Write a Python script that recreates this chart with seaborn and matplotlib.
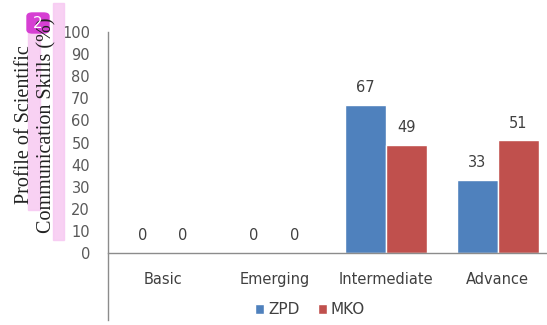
import matplotlib
matplotlib.use("Agg")
import matplotlib.pyplot as plt
from matplotlib.patches import Patch, FancyBboxPatch, Rectangle
import seaborn as sns
import pandas as pd

# Skill levels and the share of students (%) at each level per group
categories = ["Basic", "Emerging", "Intermediate", "Advance"]
zpd = [0, 0, 67, 33]
mko = [0, 0, 49, 51]
series_names = ["ZPD", "MKO"]
y_ticks = [0, 10, 20, 30, 40, 50, 60, 70, 80, 90, 100]

colors = {"ZPD": "#4F81BD", "MKO": "#C0504D"}

df = pd.DataFrame({
    "Level": categories * 2,
    "Group": [series_names[0]] * len(categories) + [series_names[1]] * len(categories),
    "Value": zpd + mko,
})

sns.set_style("white")
fig = plt.figure(figsize=(5.47, 3.25), dpi=100)
ax = fig.add_axes([108 / 547, 5 / 325, 1 - 108 / 547, 288 / 325])

sns.barplot(data=df, x="Level", y="Value", hue="Group", order=categories,
            hue_order=series_names, palette=colors, width=0.73,
            saturation=1, legend=False, ax=ax)

# value labels above each bar
for container in ax.containers:
    ax.bar_label(container, fmt="%d", padding=7, fontsize=10.5,
                 color="#404040", family="DejaVu Sans")

ax.set_ylim(-30.3, 100)
ax.set_xlim(-0.49, 3.44)
ax.set_yticks(y_ticks)
ax.set_yticklabels([str(t) for t in y_ticks], fontsize=10.5, color="#595959")
ax.tick_params(axis="y", length=0, pad=13)
ax.tick_params(axis="x", length=0, pad=14, labelsize=10.5, labelcolor="#404040")
ax.set_xlabel("")
ax.set_ylabel("")

for s in ["top", "right"]:
    ax.spines[s].set_visible(False)
ax.spines["bottom"].set_position(("data", 0))
ax.spines["bottom"].set_color("#8c8c8c")
ax.spines["left"].set_color("#8c8c8c")
ax.spines["bottom"].set_linewidth(1.0)
ax.spines["left"].set_linewidth(1.0)

# highlighted y-axis title
fig.patches.append(Rectangle((28 / 547, 1 - 210 / 325), 12 / 547, 193 / 325,
                             transform=fig.transFigure, color="#f7c9f2",
                             alpha=0.85, zorder=0))
fig.patches.append(Rectangle((53 / 547, 1 - 240 / 325), 11 / 547, 237 / 325,
                             transform=fig.transFigure, color="#f7c9f2",
                             alpha=0.85, zorder=0))
fig.text(36 / 547, 1 - 125 / 325,
         "Profile of Scientific\nCommunication Skills (%)",
         rotation=90, ha="center", va="center", multialignment="center",
         family="Liberation Serif", fontsize=14.5, color="#222222",
         linespacing=1.2)

# numbered badge
fig.patches.append(FancyBboxPatch((27 / 547, 1 - 33 / 325), 22 / 547, 20 / 325,
                                  boxstyle="round,pad=0,rounding_size=0.01",
                                  transform=fig.transFigure, color="#d63fd3",
                                  zorder=3))
fig.text(38 / 547, 1 - 23 / 325, "2", ha="center", va="center",
         color="white", fontsize=11, zorder=4)

handles = [Patch(facecolor=colors[n], label=n) for n in series_names]
fig.legend(handles=handles, loc="center", bbox_to_anchor=(310 / 547, 15 / 325),
           ncol=2, frameon=False, fontsize=11, handlelength=0.6,
           handleheight=0.6, handletextpad=0.25, columnspacing=1.2,
           labelcolor="#404040")

fig.savefig("out.png", dpi=100)
